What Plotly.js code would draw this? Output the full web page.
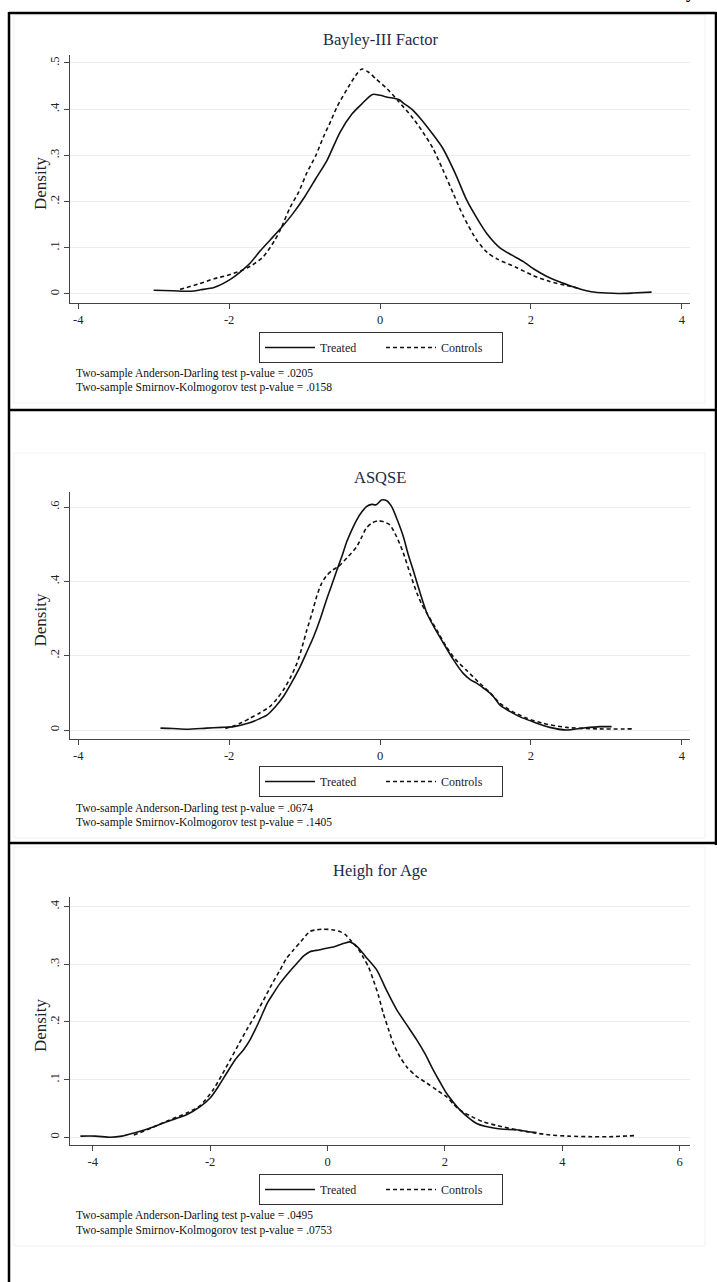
<!DOCTYPE html>
<html><head><meta charset="utf-8">
<script src="https://cdn.plot.ly/plotly-3.0.1.min.js"></script>
<style>html,body{margin:0;padding:0;background:#fff;}#chart{width:717px;height:1282px;}</style>
</head><body><div id="chart"></div>
<script>
// ---------- DATA ----------
const panelTitles = ["Bayley-III Factor", "ASQSE", "Heigh for Age"];
const seriesNames = ["Treated", "Controls"];
const yAxisTitle = "Density";

const bayleyTreatedX = [-3.0,-2.75,-2.5,-2.38,-2.2,-2.0,-1.85,-1.72,-1.59,-1.45,-1.3,-1.15,-1.0,-0.85,-0.7,-0.53,-0.37,-0.25,-0.1,0.0,0.1,0.25,0.31,0.42,0.53,0.68,0.83,1.0,1.15,1.3,1.42,1.59,1.75,1.9,2.05,2.2,2.35,2.5,2.65,2.8,3.0,3.15,3.35,3.6];
const bayleyTreatedY = [0.008,0.007,0.006,0.009,0.014,0.03,0.048,0.067,0.093,0.118,0.145,0.175,0.21,0.25,0.29,0.35,0.39,0.41,0.432,0.43,0.426,0.421,0.413,0.40,0.381,0.35,0.316,0.26,0.203,0.16,0.13,0.1,0.084,0.07,0.053,0.039,0.028,0.019,0.011,0.005,0.002,0.001,0.002,0.004];
const bayleyControlsX = [-2.65,-2.4,-2.2,-2.03,-1.85,-1.72,-1.55,-1.4,-1.32,-1.19,-1.08,-0.97,-0.85,-0.75,-0.65,-0.57,-0.42,-0.3,-0.24,-0.15,-0.05,0.09,0.24,0.44,0.57,0.7,0.83,0.97,1.1,1.28,1.42,1.55,1.8,2.03,2.25,2.48,2.65];
const bayleyControlsY = [0.01,0.022,0.033,0.04,0.05,0.06,0.08,0.115,0.139,0.188,0.22,0.262,0.30,0.34,0.375,0.405,0.448,0.478,0.487,0.48,0.465,0.445,0.418,0.38,0.35,0.316,0.27,0.218,0.17,0.117,0.09,0.076,0.058,0.04,0.027,0.018,0.012];

const asqseTreatedX = [-2.91,-2.75,-2.56,-2.3,-2.1,-1.94,-1.75,-1.6,-1.5,-1.39,-1.28,-1.17,-1.06,-0.97,-0.88,-0.79,-0.71,-0.64,-0.57,-0.5,-0.44,-0.37,-0.31,-0.24,-0.18,-0.11,-0.05,0.02,0.09,0.155,0.23,0.31,0.37,0.44,0.53,0.62,0.73,0.84,0.97,1.1,1.2,1.28,1.37,1.46,1.53,1.59,1.72,1.85,2.03,2.25,2.47,2.69,2.91,3.07];
const asqseTreatedY = [0.005,0.004,0.002,0.005,0.007,0.009,0.018,0.03,0.04,0.062,0.09,0.128,0.17,0.21,0.251,0.30,0.35,0.39,0.431,0.47,0.507,0.54,0.565,0.587,0.601,0.607,0.606,0.619,0.617,0.601,0.565,0.52,0.475,0.43,0.37,0.315,0.272,0.234,0.19,0.153,0.135,0.126,0.113,0.099,0.083,0.067,0.05,0.036,0.022,0.007,0.0,0.005,0.009,0.009];
const asqseControlsX = [-2.05,-1.94,-1.83,-1.72,-1.6,-1.46,-1.37,-1.28,-1.19,-1.1,-1.03,-0.97,-0.9,-0.84,-0.78,-0.71,-0.63,-0.55,-0.43,-0.31,-0.24,-0.18,-0.1,-0.02,0.05,0.13,0.22,0.31,0.4,0.49,0.55,0.62,0.75,0.88,1.0,1.15,1.3,1.46,1.59,1.75,1.94,2.16,2.47,2.91,3.35];
const asqseControlsY = [0.004,0.011,0.02,0.032,0.045,0.063,0.083,0.108,0.14,0.18,0.225,0.269,0.315,0.359,0.392,0.415,0.43,0.44,0.465,0.493,0.52,0.544,0.558,0.563,0.56,0.552,0.52,0.476,0.42,0.368,0.34,0.315,0.27,0.224,0.19,0.16,0.13,0.10,0.072,0.05,0.032,0.018,0.007,0.003,0.003];

const hfaTreatedX = [-4.21,-3.95,-3.7,-3.5,-3.31,-3.02,-2.74,-2.4,-2.17,-2.0,-1.86,-1.72,-1.57,-1.43,-1.32,-1.17,-1.03,-0.92,-0.81,-0.66,-0.52,-0.4,-0.3,-0.15,-0.01,0.1,0.21,0.3,0.38,0.5,0.66,0.84,1.0,1.18,1.35,1.52,1.66,1.8,1.92,2.03,2.15,2.26,2.4,2.54,2.68,2.83,3.0,3.22,3.4,3.56];
const hfaTreatedY = [0.002,0.002,0.0,0.002,0.007,0.016,0.027,0.039,0.053,0.068,0.088,0.111,0.135,0.152,0.169,0.2,0.232,0.25,0.267,0.286,0.302,0.315,0.322,0.325,0.328,0.33,0.334,0.337,0.339,0.331,0.312,0.29,0.256,0.221,0.195,0.169,0.145,0.117,0.095,0.076,0.06,0.047,0.034,0.024,0.019,0.016,0.014,0.013,0.01,0.008];
const hfaControlsX = [-3.3,-3.0,-2.74,-2.4,-2.17,-1.95,-1.8,-1.66,-1.52,-1.38,-1.23,-1.09,-0.95,-0.81,-0.7,-0.58,-0.45,-0.3,-0.18,-0.07,0.07,0.21,0.3,0.38,0.5,0.61,0.7,0.78,0.87,0.95,1.04,1.12,1.23,1.35,1.5,1.69,1.86,2.03,2.15,2.26,2.45,2.65,2.9,3.22,3.5,3.79,4.1,4.5,4.8,5.25];
const hfaControlsY = [0.004,0.016,0.028,0.042,0.055,0.082,0.108,0.134,0.16,0.186,0.212,0.238,0.265,0.29,0.31,0.325,0.34,0.357,0.36,0.361,0.36,0.357,0.352,0.343,0.33,0.312,0.295,0.273,0.245,0.215,0.187,0.163,0.14,0.122,0.107,0.094,0.082,0.07,0.057,0.047,0.036,0.027,0.02,0.013,0.008,0.004,0.002,0.001,0.001,0.003];

const xTicks12 = [-4,-2,0,2,4];
const xTicks3 = [-4,-2,0,2,4,6];
const yTickVals1 = [0,0.1,0.2,0.3,0.4,0.5];
const yTickText1 = ["0",".1",".2",".3",".4",".5"];
const yTickVals2 = [0,0.2,0.4,0.6];
const yTickText2 = ["0",".2",".4",".6"];
const yTickVals3 = [0,0.1,0.2,0.3,0.4];
const yTickText3 = ["0",".1",".2",".3",".4"];

const andersonP = [".0205", ".0674", ".0495"];
const smirnovP = [".0158", ".1405", ".0753"];

// ---------- LAYOUT HELPERS ----------
const W = 717, H = 1282;
const px = v => v / W;
const py = v => 1 - v / H;
const FONT = "Liberation Serif, Times New Roman, serif";

const panels = [
  {tx: [bayleyTreatedX, bayleyTreatedY], cx: [bayleyControlsX, bayleyControlsY], xr: [-4.109, 4.109], yr: [-0.0195, 0.5173], top: 55, bot: 303, titleY: 40, legTop: 332, note1: 373, note2: 388, xt: xTicks12, ytv: yTickVals1, ytt: yTickText1},
  {tx: [asqseTreatedX, asqseTreatedY], cx: [asqseControlsX, asqseControlsY], xr: [-4.109, 4.109], yr: [-0.0242, 0.6404], top: 492, bot: 739, titleY: 478, legTop: 766, note1: 808, note2: 822, xt: xTicks12, ytv: yTickVals2, ytt: yTickText2},
  {tx: [hfaTreatedX, hfaTreatedY], cx: [hfaControlsX, hfaControlsY], xr: [-4.387, 6.175], yr: [-0.0134, 0.4168], top: 897, bot: 1145, titleY: 870, legTop: 1174, note1: 1215, note2: 1230, xt: xTicks3, ytv: yTickVals3, ytt: yTickText3}
];

const data = [];
const layout = {
  width: W, height: H, margin: {l: 0, r: 0, t: 0, b: 0},
  paper_bgcolor: "#fff", plot_bgcolor: "#fff", showlegend: true,
  annotations: [], shapes: []
};

panels.forEach((p, i) => {
  const s = i === 0 ? "" : String(i + 1);
  const legName = "legend" + s;
  data.push({x: p.tx[0], y: p.tx[1], type: "scatter", mode: "lines", name: seriesNames[0],
    line: {color: "#111", width: 1.6, shape: "spline", smoothing: 0.7},
    xaxis: "x" + s, yaxis: "y" + s, legend: legName, hoverinfo: "skip"});
  data.push({x: p.cx[0], y: p.cx[1], type: "scatter", mode: "lines", name: seriesNames[1],
    line: {color: "#111", width: 1.6, dash: "4px,3px", shape: "spline", smoothing: 0.7},
    xaxis: "x" + s, yaxis: "y" + s, legend: legName, hoverinfo: "skip"});

  layout["xaxis" + s] = {
    domain: [px(70), px(690)], range: p.xr, anchor: "y" + s,
    tickmode: "array", tickvals: p.xt, ticktext: p.xt.map(String),
    ticks: "outside", ticklen: 5, tickwidth: 1, tickcolor: "#444",
    showline: true, linecolor: "#444", linewidth: 1.2, showgrid: false, zeroline: false,
    tickfont: {family: FONT, size: 12.5, color: "#222"}, fixedrange: true
  };
  layout["yaxis" + s] = {
    domain: [py(p.bot), py(p.top)], range: p.yr, anchor: "x" + s,
    tickmode: "array", tickvals: p.ytv, ticktext: p.ytt, tickangle: -90,
    ticks: "outside", ticklen: 5, tickwidth: 1, tickcolor: "#444", ticklabelstandoff: 0,
    showline: true, linecolor: "#444", linewidth: 1.2,
    showgrid: true, gridcolor: "#ececec", gridwidth: 1, zeroline: false,
    tickfont: {family: FONT, size: 12.5, color: "#222"}, fixedrange: true
  };
  layout[legName] = {
    x: px(381), xanchor: "center", y: py(p.legTop), yanchor: "top",
    orientation: "h", bordercolor: "#333", borderwidth: 1, bgcolor: "#fff",
    font: {family: FONT, size: 12, color: "#222"}, itemwidth: 50,
    entrywidth: 56, entrywidthmode: "pixels", traceorder: "normal"
  };
  layout.annotations.push({
    text: panelTitles[i], xref: "paper", yref: "paper", x: px(380), y: py(p.titleY),
    xanchor: "center", yanchor: "middle", showarrow: false,
    font: {family: FONT, size: 16.5, color: "#1c2a48"}
  });
  layout.annotations.push({
    text: yAxisTitle, xref: "paper", yref: "paper", x: px(40), y: py((p.top + p.bot) / 2 + 5),
    xanchor: "center", yanchor: "middle", showarrow: false, textangle: -90,
    font: {family: FONT, size: 17, color: "#222"}
  });
  layout.annotations.push({
    text: "Two-sample Anderson-Darling test p-value = " + andersonP[i],
    xref: "paper", yref: "paper", x: px(74), y: py(p.note1), xanchor: "left", yanchor: "middle",
    showarrow: false, font: {family: FONT, size: 11.5, color: "#111"}
  });
  layout.annotations.push({
    text: "Two-sample Smirnov-Kolmogorov test p-value = " + smirnovP[i],
    xref: "paper", yref: "paper", x: px(74), y: py(p.note2), xanchor: "left", yanchor: "middle",
    showarrow: false, font: {family: FONT, size: 11.5, color: "#111"}
  });
});

// fragment of a caption glyph cut at the top edge
layout.annotations.push({text: "y", xref: "paper", yref: "paper", x: px(690), y: py(4),
  xanchor: "center", yanchor: "bottom", showarrow: false,
  font: {family: FONT, size: 18, color: "#000", weight: 700}});

// table borders
const border = (x0, y0, x1, y1) => ({type: "line", xref: "paper", yref: "paper",
  x0: px(x0), y0: py(y0), x1: px(x1), y1: py(y1), line: {color: "#000", width: 2.5}});
layout.shapes.push(border(9, 13, 716, 13));
layout.shapes.push(border(9, 12, 9, 1282));
layout.shapes.push(border(716, 12, 716, 845));
layout.shapes.push(border(9, 410, 716, 410));
layout.shapes.push(border(9, 843, 716, 843));
// faint image edges
[[15, 403], [453, 838], [847, 1246]].forEach(r => {
  layout.shapes.push({type: "rect", xref: "paper", yref: "paper", x0: px(14), x1: px(705),
    y0: py(r[1]), y1: py(r[0]), line: {color: "#eef2f4", width: 1}, layer: "below"});
});

Plotly.newPlot("chart", data, layout, {staticPlot: true, displayModeBar: false});
</script></body></html>
